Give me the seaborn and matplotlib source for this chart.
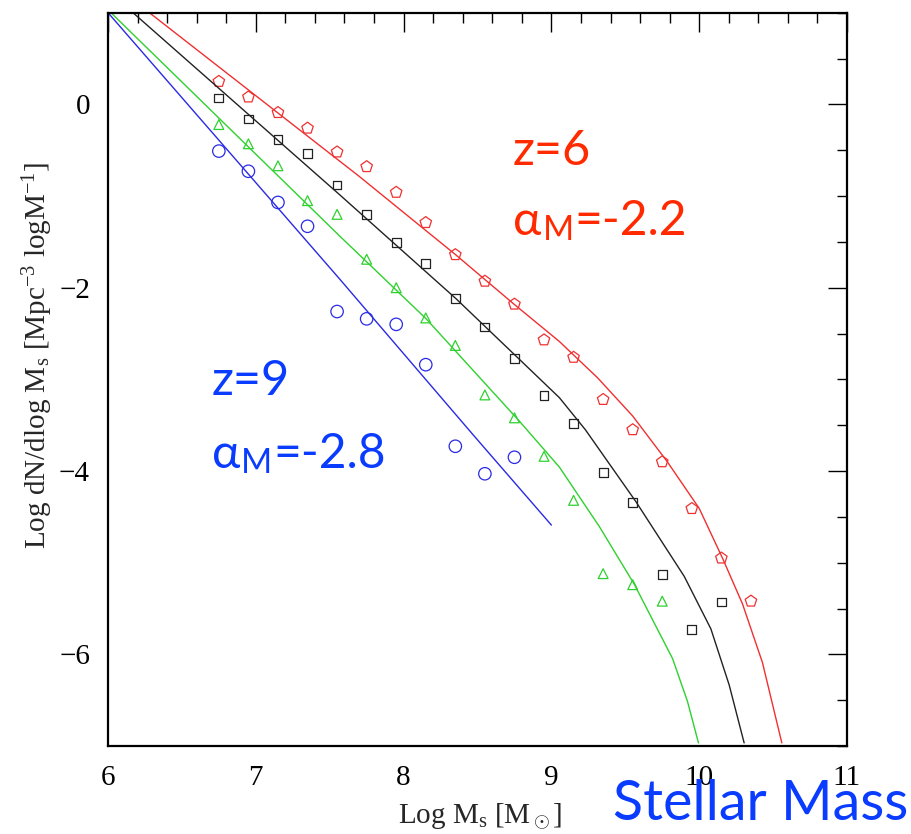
import numpy as np
import pandas as pd
import matplotlib
matplotlib.use("Agg")
import matplotlib.pyplot as plt
from matplotlib.ticker import MultipleLocator
import seaborn as sns

# ---- data points ----
mass_red = [6.75, 6.95, 7.15, 7.35, 7.55, 7.75, 7.95, 8.15, 8.35, 8.55, 8.75, 8.95,
            9.15, 9.35, 9.55, 9.75, 9.95, 10.15, 10.35]
phi_red = [0.25, 0.08, -0.09, -0.26, -0.52, -0.68, -0.96, -1.29, -1.64, -1.93, -2.18,
           -2.57, -2.76, -3.22, -3.55, -3.90, -4.41, -4.95, -5.42]

mass_black = [6.75, 6.95, 7.15, 7.35, 7.55, 7.75, 7.95, 8.15, 8.35, 8.55, 8.75, 8.95,
              9.15, 9.35, 9.55, 9.75, 9.95, 10.15]
phi_black = [0.07, -0.16, -0.38, -0.54, -0.88, -1.20, -1.51, -1.74, -2.12, -2.43, -2.77,
             -3.18, -3.48, -4.02, -4.34, -5.13, -5.73, -5.43]

mass_green = [6.75, 6.95, 7.15, 7.35, 7.55, 7.75, 7.95, 8.15, 8.35, 8.55, 8.75, 8.95,
              9.15, 9.35, 9.55, 9.75]
phi_green = [-0.22, -0.43, -0.67, -1.05, -1.20, -1.69, -2.00, -2.33, -2.63, -3.17, -3.42,
             -3.84, -4.32, -5.12, -5.24, -5.42]

mass_blue = [6.75, 6.95, 7.15, 7.35, 7.55, 7.75, 7.95, 8.15, 8.35, 8.55, 8.75]
phi_blue = [-0.51, -0.73, -1.07, -1.33, -2.26, -2.34, -2.40, -2.84, -3.73, -4.03, -3.85]

# ---- model curves ----
line_red_x = [6.28, 7.70, 8.354, 8.75, 9.054, 9.313, 9.55, 9.786, 10.0, 10.157, 10.293,
              10.428, 10.559]
line_red_y = [1.0, -0.786, -1.643, -2.184, -2.587, -2.984, -3.40, -3.903, -4.408, -4.948,
              -5.45, -6.09, -6.966]

line_black_x = [6.169, 7.566, 8.354, 8.75, 9.054, 9.23, 9.572, 9.899, 10.079, 10.203,
                10.304]
line_black_y = [1.0, -0.984, -2.119, -2.73, -3.20, -3.55, -4.335, -5.15, -5.722, -6.335,
                -6.966]

line_green_x = [6.02, 7.566, 8.15, 8.78, 9.054, 9.324, 9.561, 9.82, 9.921, 9.995]
line_green_y = [1.0, -1.434, -2.335, -3.45, -3.957, -4.605, -5.236, -6.047, -6.515,
                -6.966]

line_blue_x = [6.0, 7.566, 8.466, 9.0]
line_blue_y = [1.0, -1.903, -3.597, -4.59]

x_ticks = [6, 7, 8, 9, 10, 11]
y_ticks = [-6, -4, -2, 0]

RED = "#f03030"
BLACK = "#222222"
GREEN = "#2ed12e"
BLUE = "#2a2ae6"
TXT_RED = "#ff2a00"
TXT_BLUE = "#0a3cff"

sns.set_style("white")
plt.rcParams["font.family"] = ["Liberation Serif", "DejaVu Serif"]
plt.rcParams["mathtext.fontset"] = "custom"
plt.rcParams["mathtext.rm"] = "Liberation Serif"
plt.rcParams["mathtext.it"] = "Liberation Serif:italic"

W, H = 911, 834
fig = plt.figure(figsize=(W / 100, H / 100), dpi=100)
ax = fig.add_axes([108 / W, 88 / H, (847 - 108) / W, (746 - 12.7) / H])

series = [
    (line_red_x, line_red_y, mass_red, phi_red, RED, "p", 75),
    (line_black_x, line_black_y, mass_black, phi_black, BLACK, "s", 40),
    (line_green_x, line_green_y, mass_green, phi_green, GREEN, "^", 50),
    (line_blue_x, line_blue_y, mass_blue, phi_blue, BLUE, "o", 80),
]
for lx, ly, mx, my, col, mk, sz in series:
    sns.lineplot(x=lx, y=ly, sort=False, estimator=None, color=col, lw=1.0, ax=ax)
    sns.scatterplot(x=mx, y=my, marker=mk, s=sz, facecolor="none", edgecolor=col,
                    linewidth=0.9, ax=ax)

ax.set_xlim(6, 11)
ax.set_ylim(-7, 1)
ax.set_xticks(x_ticks)
ax.set_yticks(y_ticks)
ax.xaxis.set_minor_locator(MultipleLocator(0.2))
ax.yaxis.set_minor_locator(MultipleLocator(0.5))
ax.tick_params(which="both", direction="in", top=True, right=True, colors="black",
               width=1.0)
ax.tick_params(which="major", length=14)
ax.tick_params(which="minor", length=7)
ax.tick_params(axis="x", which="major", pad=14, labelsize=21)
ax.tick_params(axis="y", which="major", pad=13, labelsize=21)
for sp in ax.spines.values():
    sp.set_linewidth(1.6)
    sp.set_color("black")

ax.set_xlabel(r"Log M$_{\rm s}$ [M$_\odot$]", fontsize=21)
ax.set_ylabel(r"Log dN/dlog M$_{\rm s}$ [Mpc$^{-3}$ logM$^{-1}$]", fontsize=21)
ax.xaxis.set_label_coords(0.503, -0.075)
ax.yaxis.set_label_coords(-0.072, 0.533)

sans = ["Lato", "DejaVu Sans"]
renderer = fig.canvas.get_renderer()


def alpha_label(x_px, base_px, value, color, size):
    """alpha with a lowered small M, followed by '=value' (positions in pixels)."""
    t1 = fig.text(x_px / W, 1 - base_px / H, "α", color=color, fontsize=size,
                  family=sans, va="baseline", ha="left")
    x1 = t1.get_window_extent(renderer).x1
    t2 = fig.text((x1 + 1) / W, 1 - (base_px + 5) / H, "M", color=color,
                  fontsize=size * 0.7, family=sans, va="baseline", ha="left")
    x2 = t2.get_window_extent(renderer).x1
    fig.text((x2 + 1) / W, 1 - base_px / H, "=" + value, color=color, fontsize=size,
             family=sans, va="baseline", ha="left")


fig.text(513 / W, 1 - 165 / H, "z=6", color=TXT_RED, fontsize=35,
         family=sans, va="baseline", ha="left")
alpha_label(513, 235, "-2.2", TXT_RED, 34.5)
fig.text(212 / W, 1 - 395 / H, "z=9", color=TXT_BLUE, fontsize=35,
         family=sans, va="baseline", ha="left")
alpha_label(212, 468, "-2.8", TXT_BLUE, 34.5)
fig.text(613 / W, 1 - 820 / H, "Stellar Mass", color=TXT_BLUE, fontsize=40,
         family=sans, va="baseline", ha="left")

fig.savefig("out.png", dpi=100)
